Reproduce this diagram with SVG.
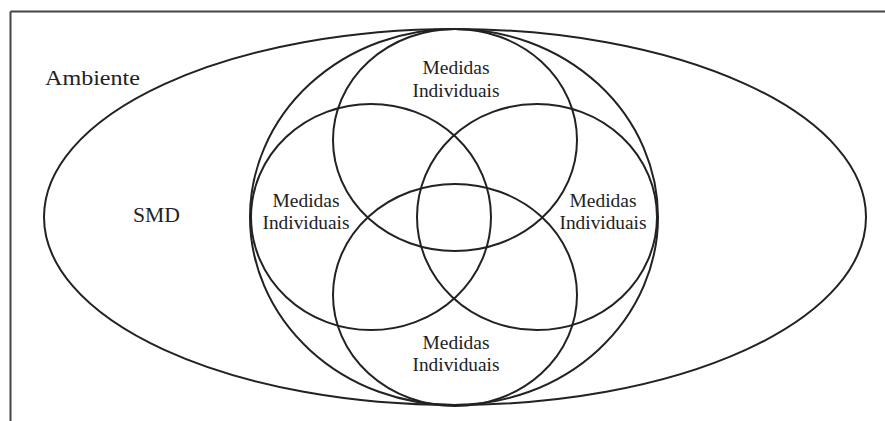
<svg xmlns="http://www.w3.org/2000/svg" width="885" height="421" viewBox="0 0 885 421">
<style>
.frame{stroke:#444;stroke-width:2;fill:none}
.shape{fill:none;stroke:#222;stroke-width:2}
.lbl{font-family:"Liberation Serif","Times New Roman",serif;font-size:18px;fill:#222;text-anchor:middle}
.big{font-family:"Liberation Serif","Times New Roman",serif;font-size:20px;fill:#222}
</style>
<rect width="885" height="421" fill="#fff"/>
<g id="frame">
<line class="frame" x1="10.5" y1="11.5" x2="885" y2="11.5"/>
<line class="frame" x1="10.5" y1="11.5" x2="10.5" y2="421"/>
</g>
<g id="ambiente">
<ellipse class="shape" cx="455" cy="217" rx="411" ry="188"/>
<text class="big" x="45" y="85" textLength="95" lengthAdjust="spacingAndGlyphs">Ambiente</text>
</g>
<g id="smd">
<ellipse class="shape" cx="454" cy="217" rx="204" ry="188"/>
<text class="big" x="133" y="222" textLength="47" lengthAdjust="spacingAndGlyphs">SMD</text>
</g>
<g id="medidas-top">
<ellipse class="shape" cx="455" cy="140" rx="122" ry="111"/>
<text class="lbl" x="456" y="74" textLength="67" lengthAdjust="spacingAndGlyphs">Medidas</text>
<text class="lbl" x="456" y="97" textLength="87" lengthAdjust="spacingAndGlyphs">Individuais</text>
</g>
<g id="medidas-left">
<ellipse class="shape" cx="371" cy="217" rx="120" ry="113"/>
<text class="lbl" x="306" y="207" textLength="67" lengthAdjust="spacingAndGlyphs">Medidas</text>
<text class="lbl" x="306" y="229" textLength="87" lengthAdjust="spacingAndGlyphs">Individuais</text>
</g>
<g id="medidas-right">
<ellipse class="shape" cx="537" cy="217" rx="120" ry="113"/>
<text class="lbl" x="603" y="207" textLength="67" lengthAdjust="spacingAndGlyphs">Medidas</text>
<text class="lbl" x="603" y="229" textLength="87" lengthAdjust="spacingAndGlyphs">Individuais</text>
</g>
<g id="medidas-bottom">
<ellipse class="shape" cx="455" cy="295" rx="122" ry="111"/>
<text class="lbl" x="456" y="349" textLength="67" lengthAdjust="spacingAndGlyphs">Medidas</text>
<text class="lbl" x="456" y="371" textLength="87" lengthAdjust="spacingAndGlyphs">Individuais</text>
</g>
<g id="connectors"/>
</svg>
